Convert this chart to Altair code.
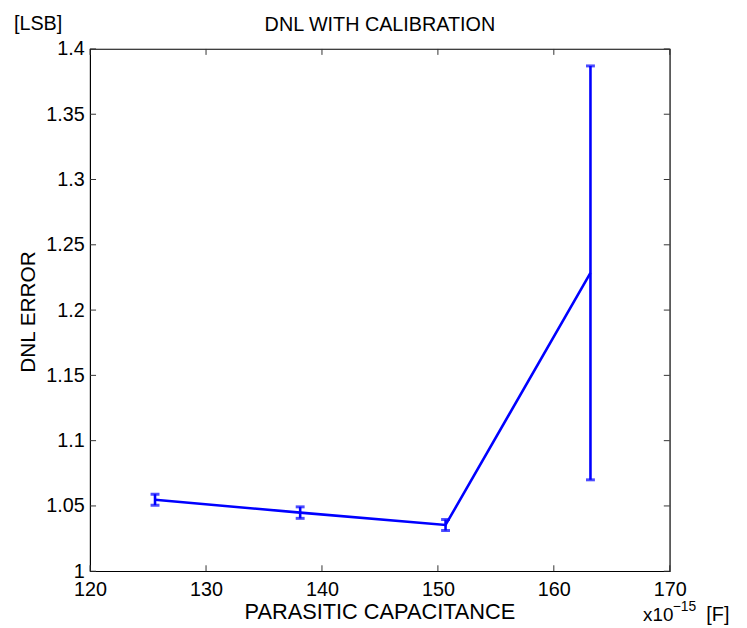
import altair as alt
import pandas as pd

cap = [125.6, 138.12, 150.66, 163.16]
dnl = [1.0548, 1.0449, 1.0354, 1.2285]
err = [0.0042, 0.0044, 0.0042, 0.1585]
xticks = [120, 130, 140, 150, 160, 170]
yticks = [1.0, 1.05, 1.1, 1.15, 1.2, 1.25, 1.3, 1.35, 1.4]

W, H = 586, 528
FONT = "Liberation Sans"
BLUE = "#0000ff"

df = pd.DataFrame({"cap": cap, "dnl": dnl, "err": err})
df["lo"] = df["dnl"] - df["err"]
df["hi"] = df["dnl"] + df["err"]
dfx = pd.DataFrame({"t": xticks})
dfy = pd.DataFrame({"t": yticks})

xs = alt.Scale(domain=[120, 170], nice=False, zero=False, padding=0)
ys = alt.Scale(domain=[1.0, 1.4], nice=False, zero=False, padding=0)

xaxis = alt.Axis(values=xticks, format="d", ticks=False, grid=False, labelFontSize=20,
                 labelFont=FONT, labelColor="black", labelPadding=9, domain=False,
                 labelFlush=False, labelOverlap=False, title=None)
yaxis = alt.Axis(values=yticks, labelExpr="datum.value == 1 ? '1' : format(datum.value, '.3~f')",
                 ticks=False, grid=False, labelFontSize=20, labelFont=FONT, labelColor="black",
                 labelPadding=6, domain=False, labelFlush=False, labelOverlap=False, title=None)

base = alt.Chart(df)
line = base.mark_line(color=BLUE, strokeWidth=2.6).encode(
    x=alt.X("cap:Q", scale=xs, axis=xaxis),
    y=alt.Y("dnl:Q", scale=ys, axis=yaxis),
)
bars = base.mark_rule(color=BLUE, strokeWidth=2.6).encode(
    x=alt.X("cap:Q", scale=xs), y=alt.Y("lo:Q", scale=ys), y2="hi:Q")
capt = base.mark_tick(color=BLUE, thickness=3, size=9, orient="horizontal").encode(
    x=alt.X("cap:Q", scale=xs), y=alt.Y("hi:Q", scale=ys))
capb = base.mark_tick(color=BLUE, thickness=3, size=9, orient="horizontal").encode(
    x=alt.X("cap:Q", scale=xs), y=alt.Y("lo:Q", scale=ys))

tk = 6
tb = alt.Chart(dfx).mark_rule(color="#333", strokeWidth=1).encode(
    x=alt.X("t:Q", scale=xs), y=alt.value(H), y2=alt.value(H - tk))
tt = alt.Chart(dfx).mark_rule(color="#333", strokeWidth=1).encode(
    x=alt.X("t:Q", scale=xs), y=alt.value(0), y2=alt.value(tk))
tl = alt.Chart(dfy).mark_rule(color="#333", strokeWidth=1).encode(
    y=alt.Y("t:Q", scale=ys), x=alt.value(0), x2=alt.value(tk))
tr = alt.Chart(dfy).mark_rule(color="#333", strokeWidth=1).encode(
    y=alt.Y("t:Q", scale=ys), x=alt.value(W), x2=alt.value(W - tk))


def txt(s, x, y, size=20, angle=0, align="center", baseline="middle"):
    kw = dict(text=s, font=FONT, fontSize=size, color="black", align=align, baseline=baseline)
    if angle:
        kw["angle"] = angle
    return alt.Chart(pd.DataFrame({"a": [0]})).mark_text(**kw).encode(
        x=alt.value(x), y=alt.value(y))


title = txt("DNL WITH CALIBRATION", W / 2, -24, size=20)
lsb = txt("[LSB]", -77, -19, size=20, align="left", baseline="alphabetic")
ytitle = txt("DNL ERROR", -62, H / 2 + 2, size=21, angle=270)
xtitle = txt("PARASITIC CAPACITANCE", W / 2, H + 41, size=22)
x10 = txt("x10", W - 27, H + 50, size=19, align="left", baseline="alphabetic")
sup = txt("\u221215", W + 3, H + 40, size=14, align="left", baseline="alphabetic")
funit = txt("[F]", W + 37, H + 50, size=20, align="left", baseline="alphabetic")

chart = alt.layer(line, bars, capt, capb, tb, tt, tl, tr,
                  title, lsb, ytitle, xtitle, x10, sup, funit).properties(
    width=W, height=H,
    autosize=alt.AutoSizeParams(type="none"),
    padding={"left": 83, "top": 38, "right": 70, "bottom": 54},
    background="white",
).configure_view(stroke="black", strokeWidth=1.2)

chart.save("out.html", embed_options={"renderer": "svg", "actions": False})
